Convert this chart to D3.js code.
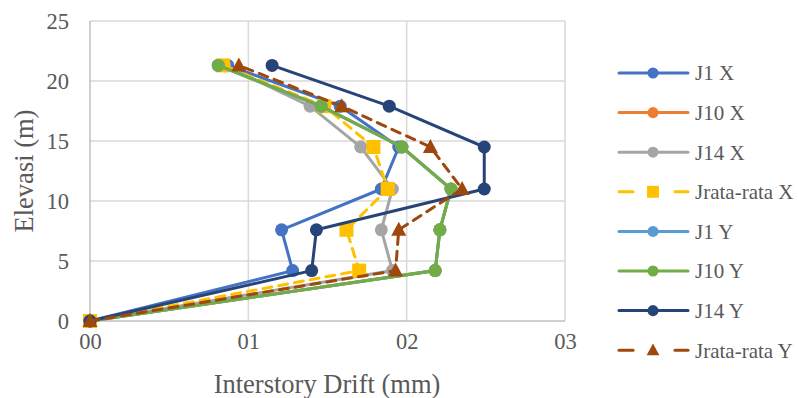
<!DOCTYPE html>
<html><head><meta charset="utf-8">
<script src="https://cdn.jsdelivr.net/npm/d3@7"></script>
<style>body{margin:0;background:#fff}svg{display:block}</style>
</head><body><svg id="c" width="798" height="398"></svg>
<script>
const elevations = [0, 4.2, 7.6, 11, 14.5, 17.9, 21.3];
const j1X      = [0, 1.28, 1.21, 1.84, 1.95, 1.58, 0.87];
const j10X     = [0, 2.18, 2.21, 2.28, 1.97, 1.46, 0.81];
const j14X     = [0, 1.91, 1.84, 1.91, 1.71, 1.39, 0.85];
const jrataX   = [0, 1.70, 1.62, 1.88, 1.79, 1.48, 0.84];
const j1Y      = [0, 2.18, 2.21, 2.28, 1.97, 1.46, 0.81];
const j10Y     = [0, 2.18, 2.21, 2.28, 1.97, 1.46, 0.81];
const j14Y     = [0, 1.40, 1.43, 2.49, 2.49, 1.89, 1.15];
const jrataY   = [0, 1.93, 1.95, 2.35, 2.15, 1.59, 0.94];
const seriesNames = ["J1 X","J10 X","J14 X","Jrata-rata X","J1 Y","J10 Y","J14 Y","Jrata-rata Y"];
const xTickLabels = ["00","01","02","03"];
const yTicks = [0,5,10,15,20,25];

const seriesValues = [j1X,j10X,j14X,jrataX,j1Y,j10Y,j14Y,jrataY];
const colors = ["#4472C4","#ED7D31","#A5A5A5","#FFC000","#5B9BD5","#70AD47","#264478","#9E480E"];
const markers = ["circle","circle","circle","square","circle","circle","circle","triangle"];
const dashed = [false,false,false,true,false,false,false,true];

const svg = d3.select("#c");
const L=90,R=565,T=21,B=321;
const x = d3.scaleLinear().domain([0,3]).range([L,R]);
const y = d3.scaleLinear().domain([0,25]).range([B,T]);
const font = "'Liberation Serif','Times New Roman',serif";
const txt = "#595959";

// grid
svg.append("g").selectAll("line").data(yTicks.slice(1)).join("line")
  .attr("x1",L).attr("x2",R).attr("y1",d=>y(d)).attr("y2",d=>y(d))
  .attr("stroke","#d9d9d9").attr("stroke-width",1.5);
svg.append("g").selectAll("line").data([1,2,3]).join("line")
  .attr("y1",T).attr("y2",B).attr("x1",d=>x(d)).attr("x2",d=>x(d))
  .attr("stroke","#d9d9d9").attr("stroke-width",1.5);
// axis lines
svg.append("line").attr("x1",L).attr("x2",L).attr("y1",T).attr("y2",B).attr("stroke","#bfbfbf").attr("stroke-width",1.5);
svg.append("line").attr("x1",L).attr("x2",R).attr("y1",B).attr("y2",B).attr("stroke","#bfbfbf").attr("stroke-width",1.5);

const yAxis = svg.append("g").attr("transform",`translate(69,0)`)
  .call(d3.axisLeft(y).tickValues(yTicks).tickSize(0).tickPadding(0));
yAxis.attr("font-family",null).attr("font-size",null);
yAxis.select(".domain").remove();
yAxis.selectAll("text").style("font-family",font).style("font-size","22.5px").attr("fill",txt).attr("x",0).attr("dy","0.35em");
const xAxis = svg.append("g").attr("transform",`translate(0,349)`)
  .call(d3.axisBottom(x).tickValues([0,1,2,3]).tickFormat((d,i)=>xTickLabels[i]).tickSize(0).tickPadding(0));
xAxis.attr("font-family",null).attr("font-size",null);
xAxis.select(".domain").remove();
xAxis.selectAll("text").style("font-family",font).style("font-size","22.5px").attr("fill",txt).attr("y",0).attr("dy",0);

svg.append("text").attr("x",327).attr("y",393).attr("text-anchor","middle")
  .style("font-family",font).style("font-size","26.5px").attr("fill",txt).text("Interstory Drift (mm)");
svg.append("text").attr("transform","translate(33,171) rotate(-90)").attr("text-anchor","middle")
  .style("font-family",font).style("font-size","26.5px").attr("fill",txt).text("Elevasi (m)");

function drawMarker(g, type, cx, cy, color, s){
  if(type==="circle") g.append("circle").attr("cx",cx).attr("cy",cy).attr("r",6.5*s).attr("fill",color);
  else if(type==="square") g.append("rect").attr("x",cx-7*s).attr("y",cy-7*s).attr("width",14*s).attr("height",14*s).attr("fill",color);
  else g.append("path").attr("d",`M${cx},${cy-8*s}L${cx+7.5*s},${cy+6*s}L${cx-7.5*s},${cy+6*s}Z`).attr("fill",color);
}

const line = d3.line().x(d=>x(d[0])).y(d=>y(d[1]));
seriesValues.forEach((vals,i)=>{
  const pts = vals.map((v,k)=>[v,elevations[k]]);
  const g = svg.append("g");
  g.append("path").attr("d",line(pts)).attr("fill","none").attr("stroke",colors[i])
    .attr("stroke-width",3).attr("stroke-dasharray",dashed[i]?"9,7":null).attr("stroke-linecap",dashed[i]?"round":"butt");
  pts.forEach(p=>drawMarker(g,markers[i],x(p[0]),y(p[1]),colors[i],1));
});

// legend
const lg = svg.append("g");
seriesNames.forEach((n,i)=>{
  const cy = 73 + i*39.6;
  const g = lg.append("g");
  if(dashed[i]){
    g.append("line").attr("x1",619).attr("x2",633).attr("y1",cy).attr("y2",cy).attr("stroke",colors[i]).attr("stroke-width",3).attr("stroke-linecap","round");
    g.append("line").attr("x1",675).attr("x2",688).attr("y1",cy).attr("y2",cy).attr("stroke",colors[i]).attr("stroke-width",3).attr("stroke-linecap","round");
  } else {
    g.append("line").attr("x1",619).attr("x2",688).attr("y1",cy).attr("y2",cy).attr("stroke",colors[i]).attr("stroke-width",3).attr("stroke-linecap","round");
  }
  drawMarker(g,markers[i],653,cy,colors[i],0.85);
  g.append("text").attr("x",695).attr("y",cy).attr("dy","0.35em").style("font-family",font)
    .style("font-size","21px").attr("fill",txt).text(n);
});
</script></body></html>
